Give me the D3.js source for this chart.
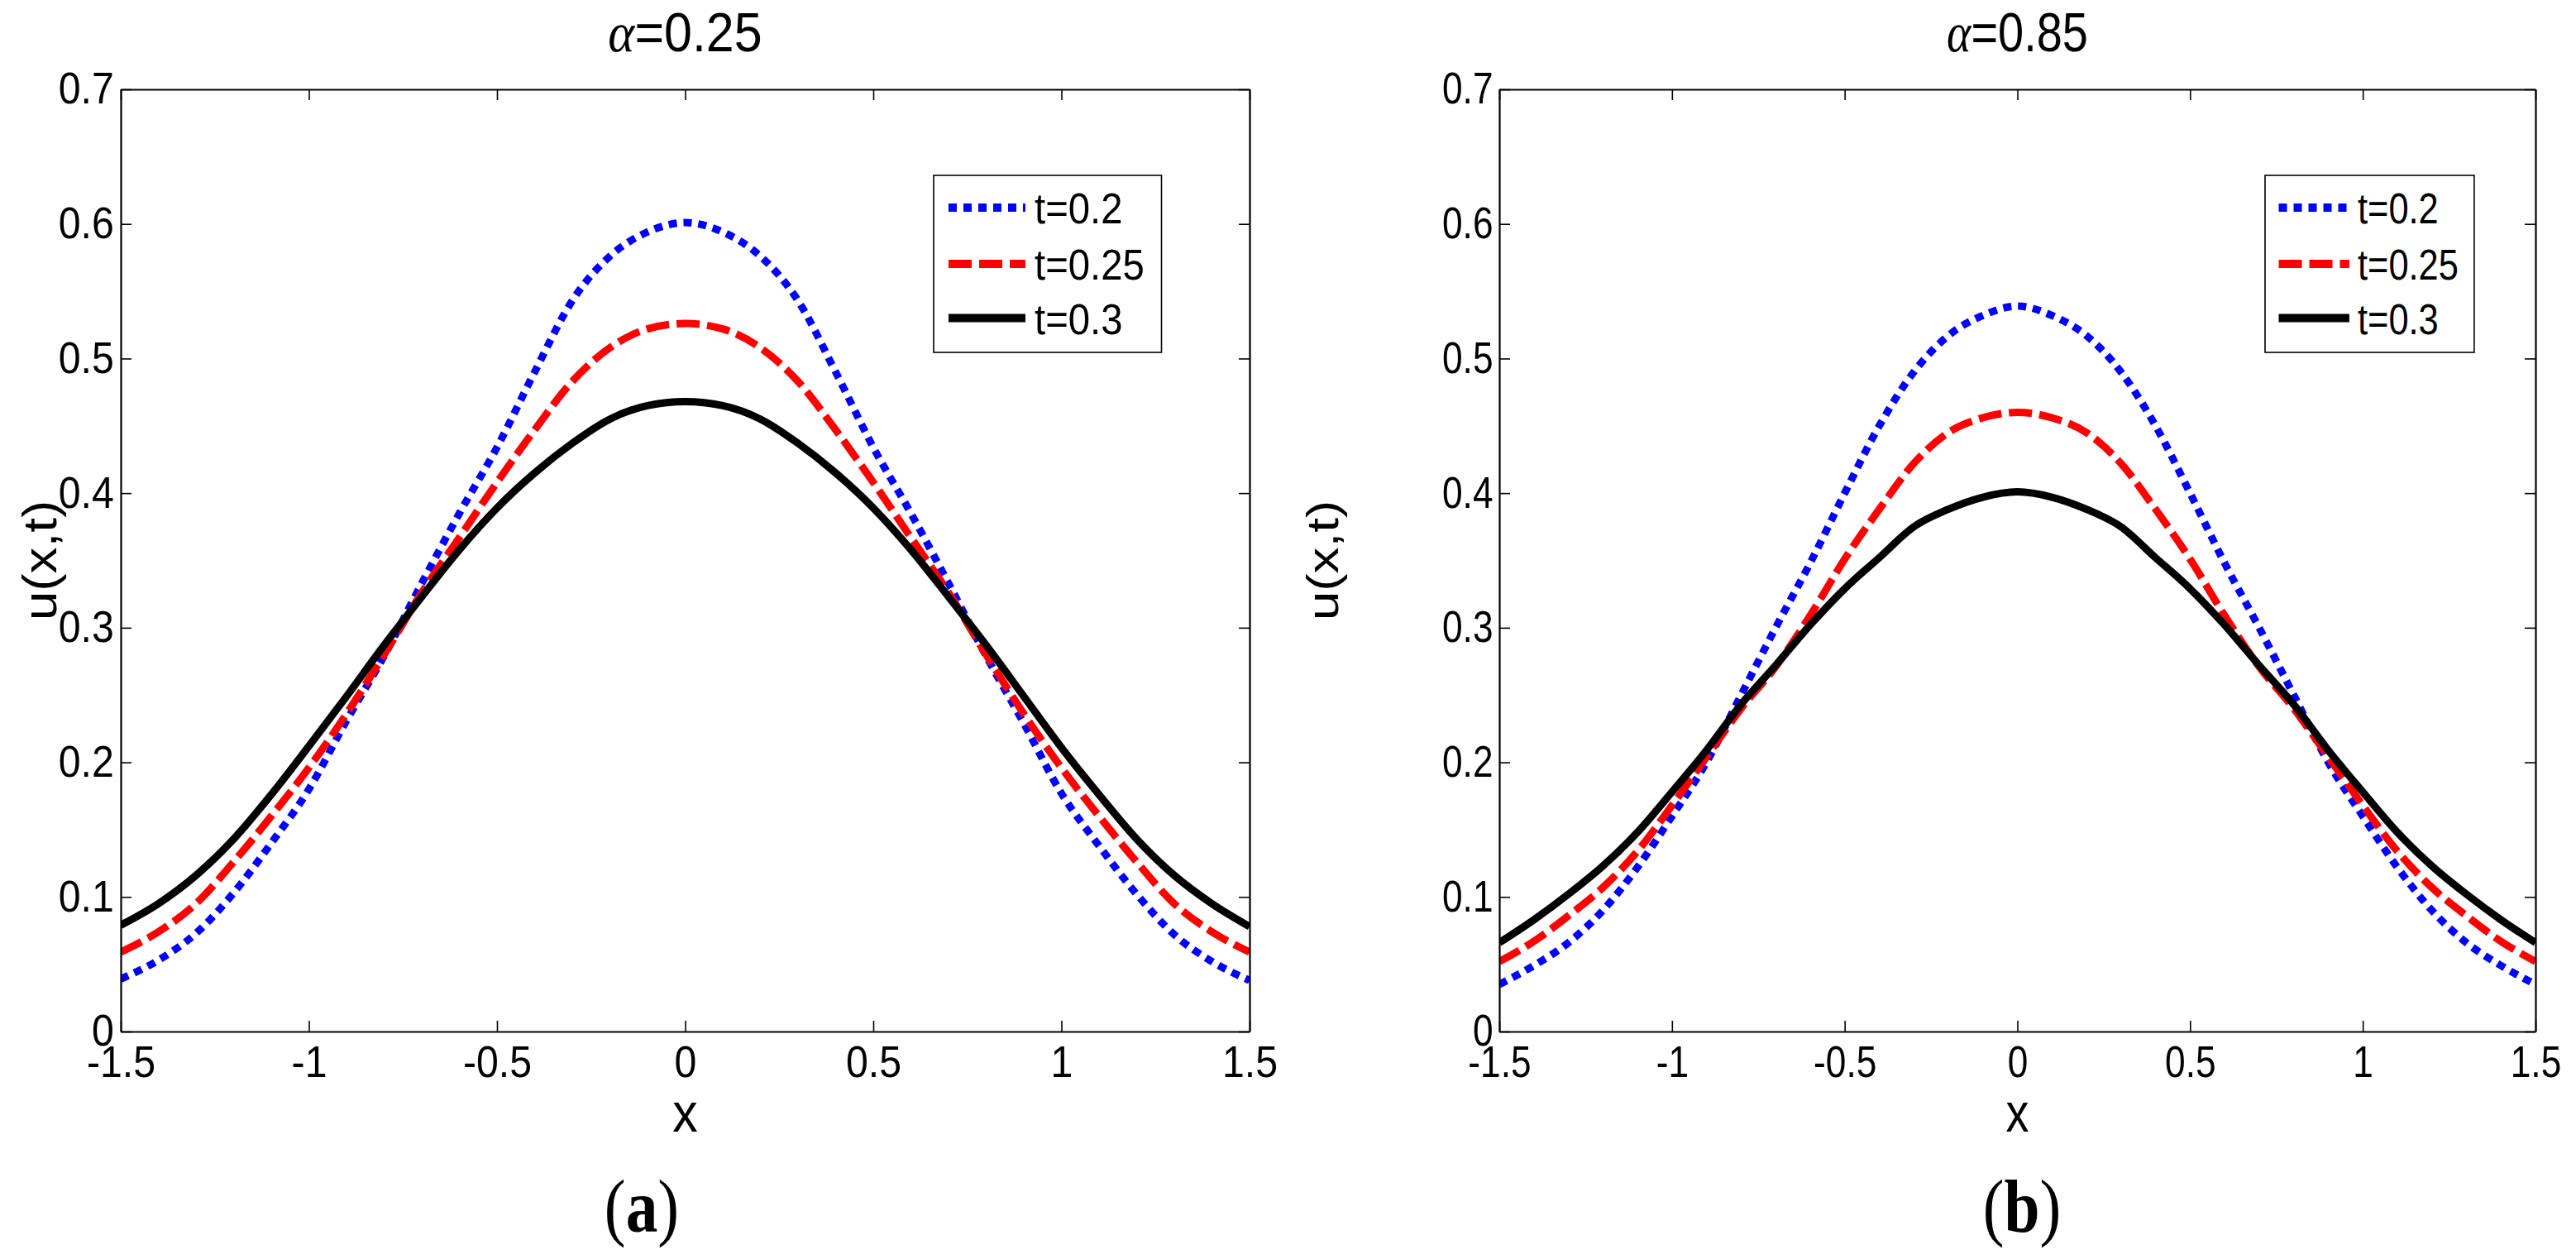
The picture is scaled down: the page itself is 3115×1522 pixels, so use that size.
<!DOCTYPE html>
<html>
<head>
<meta charset="utf-8">
<script src="https://cdn.jsdelivr.net/npm/d3@7"></script>
<style>
body { margin: 0; background: #fff; }
text { font-family: "Liberation Sans", Arial, sans-serif; fill: #000; }
</style>
</head>
<body>
<svg id="fig" width="3115" height="1522"></svg>
<script>
// x grid shared by every curve
var xValues = [-1.5, -1.4, -1.3, -1.2, -1.1, -1.0, -0.9, -0.8, -0.7, -0.6, -0.5, -0.4, -0.3, -0.2, -0.1, 0,
  0.1, 0.2, 0.3, 0.4, 0.5, 0.6, 0.7, 0.8, 0.9, 1.0, 1.1, 1.2, 1.3, 1.4, 1.5];
var xTicks = [-1.5, -1, -0.5, 0, 0.5, 1, 1.5];
var yTicks = [0, 0.1, 0.2, 0.3, 0.4, 0.5, 0.6, 0.7];
var seriesNames = ["t=0.2", "t=0.25", "t=0.3"];
var alphaLabels = ["0.25", "0.85"];
var panelCaptions = ["a", "b"];

// alpha = 0.25
var blueA = [0.039, 0.053, 0.073, 0.103, 0.140, 0.180, 0.231, 0.279, 0.333, 0.385, 0.434, 0.490, 0.543, 0.576, 0.594, 0.601,
  0.594, 0.576, 0.543, 0.490, 0.434, 0.385, 0.333, 0.279, 0.229, 0.177, 0.138, 0.102, 0.072, 0.052, 0.038];
var redA = [0.059, 0.074, 0.095, 0.126, 0.160, 0.196, 0.236, 0.280, 0.326, 0.367, 0.408, 0.447, 0.483, 0.508, 0.522, 0.526,
  0.522, 0.508, 0.483, 0.447, 0.408, 0.367, 0.326, 0.280, 0.236, 0.196, 0.160, 0.126, 0.095, 0.074, 0.059];
var blackA = [0.079, 0.095, 0.116, 0.143, 0.176, 0.212, 0.249, 0.287, 0.323, 0.358, 0.389, 0.415, 0.437, 0.455, 0.465, 0.468,
  0.465, 0.455, 0.437, 0.415, 0.389, 0.358, 0.323, 0.287, 0.249, 0.211, 0.176, 0.143, 0.116, 0.095, 0.078];

// alpha = 0.85
var blueB = [0.035, 0.049, 0.066, 0.090, 0.122, 0.160, 0.200, 0.250, 0.300, 0.348, 0.400, 0.450, 0.490, 0.517, 0.532, 0.539,
  0.532, 0.517, 0.490, 0.450, 0.400, 0.348, 0.300, 0.250, 0.200, 0.160, 0.122, 0.090, 0.066, 0.049, 0.035];
var redB = [0.052, 0.067, 0.086, 0.107, 0.134, 0.168, 0.204, 0.240, 0.271, 0.309, 0.351, 0.388, 0.422, 0.445, 0.456, 0.460,
  0.456, 0.445, 0.422, 0.388, 0.351, 0.309, 0.271, 0.240, 0.204, 0.168, 0.134, 0.107, 0.086, 0.067, 0.052];
var blackB = [0.066, 0.083, 0.102, 0.123, 0.148, 0.178, 0.209, 0.243, 0.272, 0.302, 0.329, 0.352, 0.375, 0.388, 0.397, 0.401,
  0.397, 0.388, 0.375, 0.352, 0.329, 0.302, 0.272, 0.243, 0.209, 0.178, 0.148, 0.123, 0.102, 0.083, 0.066];

var styles = [
  { color: "#0000ff", dash: "10,8" },
  { color: "#ff0000", dash: "28,9" },
  { color: "#000000", dash: null }
];

var panels = [
  { left: 146, right: 1511, sx: 0.91, k: 1, legendX: 1129, ylabelX: 68, captionX: 776,
    series: [blueA, redA, blackA] },
  { left: 1813, right: 3066, sx: 0.835, k: 0.918, legendX: 2739, ylabelX: 1618, captionX: 2445,
    series: [blueB, redB, blackB] }
];
var plotTop = 108, plotBottom = 1247;

var svg = d3.select("#fig");
svg.append("rect").attr("width", 3115).attr("height", 1522).attr("fill", "#fff");

function addText(g, x, y, str, size, sx) {
  return g.append("text")
    .attr("transform", "translate(" + x + "," + y + ") scale(" + sx + ",1)")
    .attr("text-anchor", "middle")
    .style("font-size", size + "px")
    .text(str);
}

function styleAxis(g) {
  g.select(".domain").attr("stroke", "#000").attr("stroke-width", 2.2);
  g.selectAll(".tick line").attr("stroke", "#000").attr("stroke-width", 1.6);
}

panels.forEach(function (p, i) {
  var g = svg.append("g");
  var x = d3.scaleLinear().domain([-1.5, 1.5]).range([p.left, p.right]);
  var y = d3.scaleLinear().domain([0, 0.7]).range([plotBottom, plotTop]);

  g.append("clipPath").attr("id", "clip" + i)
    .append("rect")
    .attr("x", p.left).attr("y", plotTop)
    .attr("width", p.right - p.left).attr("height", plotBottom - plotTop);

  var line = d3.line()
    .x(function (d) { return x(d[0]); })
    .y(function (d) { return y(d[1]); })
    .curve(d3.curveMonotoneX);

  var curves = g.append("g").attr("clip-path", "url(#clip" + i + ")");
  p.series.forEach(function (vals, j) {
    curves.append("path")
      .datum(xValues.map(function (xv, n) { return [xv, vals[n]]; }))
      .attr("fill", "none")
      .attr("stroke", styles[j].color)
      .attr("stroke-width", 9)
      .attr("stroke-dasharray", styles[j].dash)
      .attr("stroke-linejoin", "round")
      .attr("d", line);
  });

  // box axes with inward ticks
  var fmt = function (d) { return String(d); };
  var xb = g.append("g").attr("transform", "translate(0," + plotBottom + ")")
    .call(d3.axisBottom(x).tickValues(xTicks).tickFormat(fmt).tickSize(-13).tickSizeOuter(0).tickPadding(17));
  var yl = g.append("g").attr("transform", "translate(" + p.left + ",0)")
    .call(d3.axisLeft(y).tickValues(yTicks).tickFormat(fmt).tickSize(-13).tickSizeOuter(0).tickPadding(9));
  var xt = g.append("g").attr("transform", "translate(0," + plotTop + ")")
    .call(d3.axisTop(x).tickValues(xTicks).tickFormat("").tickSize(-13).tickSizeOuter(0));
  var yr = g.append("g").attr("transform", "translate(" + p.right + ",0)")
    .call(d3.axisRight(y).tickValues(yTicks).tickFormat("").tickSize(-13).tickSizeOuter(0));
  [xb, yl, xt, yr].forEach(styleAxis);
  [xb, yl].forEach(function (a) {
    a.selectAll(".tick text")
      .attr("fill", "#000")
      .style("font-family", "'Liberation Sans', Arial, sans-serif")
      .style("font-size", "53px")
      .attr("transform", "scale(" + p.sx + ",1)");
  });

  // title
  var cx = (p.left + p.right) / 2;
  var t = g.append("text")
    .attr("transform", "translate(" + cx + ",62) scale(" + p.sx + ",1)")
    .attr("text-anchor", "middle")
    .style("font-size", "67px");
  t.append("tspan").style("font-family", "'Liberation Serif', 'Times New Roman', serif")
    .style("font-style", "italic").text("\u03b1");
  t.append("tspan").text("=" + alphaLabels[i]);

  // axis labels
  addText(g, cx, 1368, "x", 67, p.sx);
  g.append("text")
    .attr("transform", "translate(" + p.ylabelX + "," + (plotTop + plotBottom) / 2 + ") rotate(-90) scale(1," + p.sx + ")")
    .attr("text-anchor", "middle")
    .style("font-size", "64px")
    .text("u(x,t)");

  // panel caption
  var cap = g.append("text")
    .attr("transform", "translate(" + p.captionX + ",1489) scale(0.86,1)")
    .attr("text-anchor", "middle")
    .style("font-family", "'Liberation Serif', 'Times New Roman', serif")
    .style("font-size", "90px");
  cap.append("tspan").text("(");
  cap.append("tspan").style("font-weight", "bold").text(panelCaptions[i]);
  cap.append("tspan").text(")");

  // legend
  var lg = g.append("g");
  lg.append("rect")
    .attr("x", p.legendX).attr("y", 212)
    .attr("width", 275.5 * p.k).attr("height", 214)
    .attr("fill", "#fff").attr("stroke", "#000").attr("stroke-width", 1.6);
  var rows = [39, 107, 172.5];
  seriesNames.forEach(function (name, j) {
    var ry = 212 + rows[j];
    lg.append("line")
      .attr("x1", p.legendX + 18 * p.k).attr("x2", p.legendX + 111 * p.k)
      .attr("y1", ry).attr("y2", ry)
      .attr("stroke", styles[j].color)
      .attr("stroke-width", 10)
      .attr("stroke-dasharray", styles[j].dash);
    lg.append("text")
      .attr("transform", "translate(" + (p.legendX + 122 * p.k) + "," + (ry + 19) + ") scale(" + p.sx + ",1)")
      .style("font-size", "52px")
      .text(name);
  });
});
</script>
</body>
</html>
